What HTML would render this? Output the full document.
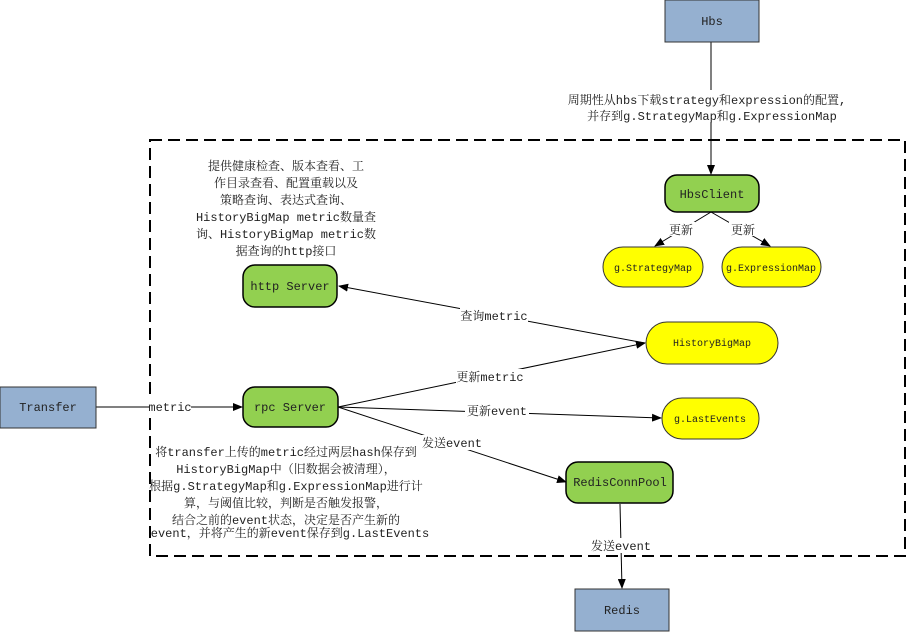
<!DOCTYPE html>
<html><head><meta charset="utf-8"><style>
html,body{margin:0;padding:0;background:#fff;}
svg text{font-family:"Liberation Mono","Noto Serif CJK SC",monospace;fill:#222;}
</style></head><body>
<svg width="907" height="632" viewBox="0 0 907 632" xmlns="http://www.w3.org/2000/svg">
<defs><marker id="a" markerWidth="10" markerHeight="8" refX="9" refY="4" orient="auto" markerUnits="userSpaceOnUse"><path d="M0,0 L10,4 L0,8 z" fill="#000"/></marker></defs>
<rect x="150" y="140" width="755" height="416" fill="none" stroke="#000" stroke-width="2" stroke-dasharray="12,6"/>
<line x1="711" y1="42" x2="711" y2="174" stroke="#000" marker-end="url(#a)"/>
<line x1="711" y1="212" x2="655" y2="246" stroke="#000" marker-end="url(#a)"/>
<line x1="711" y1="212" x2="770" y2="246" stroke="#000" marker-end="url(#a)"/>
<line x1="645" y1="343" x2="339" y2="286" stroke="#000" marker-end="url(#a)"/>
<line x1="338" y1="407" x2="645" y2="343" stroke="#000" marker-end="url(#a)"/>
<line x1="338" y1="407" x2="661" y2="418" stroke="#000" marker-end="url(#a)"/>
<line x1="338" y1="407" x2="566" y2="482" stroke="#000" marker-end="url(#a)"/>
<line x1="620" y1="504" x2="622" y2="588" stroke="#000" marker-end="url(#a)"/>
<line x1="96" y1="407" x2="242" y2="407" stroke="#000" marker-end="url(#a)"/>
<rect x="665" y="0" width="94" height="42" fill="#95b0d0" stroke="#333"/>
<text x="712" y="25" font-size="12" text-anchor="middle">Hbs</text>
<rect x="0" y="387" width="96" height="41" fill="#95b0d0" stroke="#333"/>
<text x="48" y="411" font-size="12" text-anchor="middle">Transfer</text>
<rect x="575" y="589" width="94" height="42" fill="#95b0d0" stroke="#333"/>
<text x="622" y="614" font-size="12" text-anchor="middle">Redis</text>
<rect x="665" y="175" width="94" height="37" rx="12" fill="#92d050" stroke="#000" stroke-width="1.5"/>
<text x="712" y="198" font-size="12" text-anchor="middle">HbsClient</text>
<rect x="243" y="265" width="94" height="42" rx="12" fill="#92d050" stroke="#000" stroke-width="1.5"/>
<text x="290" y="290" font-size="12" text-anchor="middle">http Server</text>
<rect x="243" y="387" width="95" height="40" rx="12" fill="#92d050" stroke="#000" stroke-width="1.5"/>
<text x="290" y="411" font-size="12" text-anchor="middle">rpc Server</text>
<rect x="566" y="462" width="107" height="41" rx="12" fill="#92d050" stroke="#000" stroke-width="1.5"/>
<text x="620" y="486" font-size="12" text-anchor="middle">RedisConnPool</text>
<rect x="603" y="247" width="100" height="40" rx="20" fill="#ffff00" stroke="#333"/>
<text x="653" y="271" font-size="10" text-anchor="middle">g.StrategyMap</text>
<rect x="722" y="247" width="99" height="40" rx="20" fill="#ffff00" stroke="#333"/>
<text x="771" y="271" font-size="10" text-anchor="middle">g.ExpressionMap</text>
<rect x="646" y="322" width="132" height="42" rx="21" fill="#ffff00" stroke="#333"/>
<text x="712" y="346" font-size="10" text-anchor="middle">HistoryBigMap</text>
<rect x="662" y="398" width="97" height="41" rx="20" fill="#ffff00" stroke="#333"/>
<text x="710" y="422" font-size="10" text-anchor="middle">g.LastEvents</text>
<g font-size="12" text-anchor="middle">
<rect x="566" y="90" width="284" height="32" fill="#fff"/>
<text x="707" y="104">周期性从hbs下载strategy和expression的配置,</text>
<text x="712" y="120">并存到g.StrategyMap和g.ExpressionMap</text>
<rect x="667" y="222" width="28" height="14" fill="#fff"/><text x="681" y="234">更新</text>
<rect x="729" y="222" width="28" height="14" fill="#fff"/><text x="743" y="234">更新</text>
<rect x="460" y="308" width="68" height="15" fill="#fff"/><text x="494" y="320">查询metric</text>
<rect x="456" y="369" width="68" height="15" fill="#fff"/><text x="490" y="381">更新metric</text>
<rect x="465" y="403" width="64" height="15" fill="#fff"/><text x="497" y="415">更新event</text>
<rect x="420" y="435" width="64" height="15" fill="#fff"/><text x="452" y="447">发送event</text>
<rect x="589" y="538" width="64" height="15" fill="#fff"/><text x="621" y="550">发送event</text>
<rect x="149" y="400" width="42" height="14" fill="#fff"/><text x="170" y="411">metric</text>
<text x="286" y="170">提供健康检查、版本查看、工</text>
<text x="286" y="187">作目录查看、配置重载以及</text>
<text x="286" y="204">策略查询、表达式查询、</text>
<text x="286" y="221">HistoryBigMap metric数量查</text>
<text x="286" y="238">询、HistoryBigMap metric数</text>
<text x="286" y="255">据查询的http接口</text>
<text x="286" y="456">将transfer上传的metric经过两层hash保存到</text>
<text x="286" y="473">HistoryBigMap中（旧数据会被清理），</text>
<text x="286" y="490">根据g.StrategyMap和g.ExpressionMap进行计</text>
<text x="286" y="507">算，与阈值比较，判断是否触发报警，</text>
<text x="286" y="524">结合之前的event状态，决定是否产生新的</text>
<text x="290" y="537">event，并将产生的新event保存到g.LastEvents</text>
</g>
</svg>
</body></html>
